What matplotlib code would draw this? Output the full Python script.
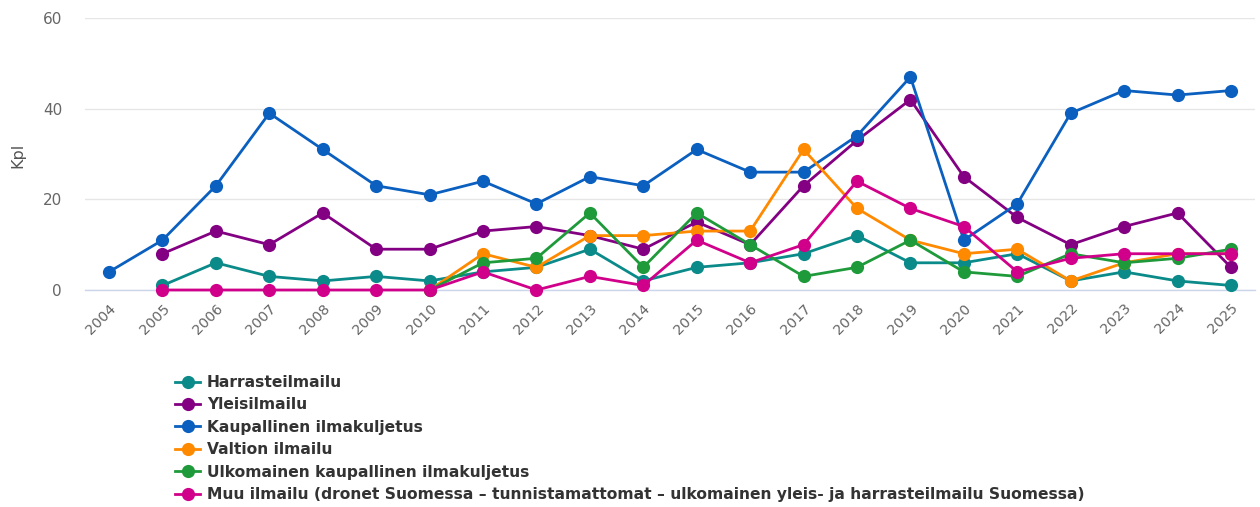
import numpy as np
import matplotlib
matplotlib.use("Agg")
import matplotlib.pyplot as plt

nan = np.nan
years = [str(y) for y in range(2004, 2026)]

harrasteilmailu = [nan, 1, 6, 3, 2, 3, 2, 4, 5, 9, 2, 5, 6, 8, 12, 6, 6, 8, 2, 4, 2, 1]
yleisilmailu = [nan, 8, 13, 10, 17, 9, 9, 13, 14, 12, 9, 15, 10, 23, 33, 42, 25, 16, 10, 14, 17, 5]
kaupallinen = [4, 11, 23, 39, 31, 23, 21, 24, 19, 25, 23, 31, 26, 26, 34, 47, 11, 19, 39, 44, 43, 44]
valtion = [nan, nan, nan, nan, nan, nan, 0, 8, 5, 12, 12, 13, 13, 31, 18, 11, 8, 9, 2, 6, 8, 8]
ulkomainen = [nan, nan, nan, nan, nan, nan, 0, 6, 7, 17, 5, 17, 10, 3, 5, 11, 4, 3, 8, 6, 7, 9]
muu = [nan, 0, 0, 0, 0, 0, 0, 4, 0, 3, 1, 11, 6, 10, 24, 18, 14, 4, 7, 8, 8, 8]

series_names = [
    "Harrasteilmailu",
    "Yleisilmailu",
    "Kaupallinen ilmakuljetus",
    "Valtion ilmailu",
    "Ulkomainen kaupallinen ilmakuljetus",
    "Muu ilmailu (dronet Suomessa – tunnistamattomat – ulkomainen yleis- ja harrasteilmailu Suomessa)",
]
series_values = [harrasteilmailu, yleisilmailu, kaupallinen, valtion, ulkomainen, muu]
colors = ["#0b8a8a", "#830083", "#0a5fbf", "#ff8a00", "#1f9a3b", "#d1008a"]

W, H = 1260, 507
fig = plt.figure(figsize=(W / 100, H / 100), dpi=100)
ax = fig.add_axes([85 / W, 1 - 290 / H, (1255 - 85) / W, (290 - 18) / H])

x = np.arange(len(years))
lines = []
for name, vals, c in zip(series_names, series_values, colors):
    ln, = ax.plot(x, np.array(vals, dtype=float), color=c, lw=2.0, marker="o",
                  markersize=9.5, markeredgewidth=0, label=name, clip_on=False, zorder=3)
    lines.append(ln)

ax.set_xlim(-0.45, len(years) - 1 + 0.45)
ax.set_ylim(0, 60)
ax.set_yticks([0, 20, 40, 60])
ax.set_xticks(x)
ax.set_xticklabels(years, rotation=45, ha="right", rotation_mode="anchor")
ax.tick_params(axis="x", length=0, pad=8, labelsize=10.3, labelcolor="#666666")
ax.tick_params(axis="y", length=0, pad=16.5, labelsize=11, labelcolor="#666666")
ax.grid(axis="y", color="#e6e6e6", lw=1)
ax.set_axisbelow(True)
for s in ["top", "right", "left"]:
    ax.spines[s].set_visible(False)
ax.spines["bottom"].set_color("#ccd6eb")
ax.spines["bottom"].set_linewidth(1)
fig.text(18 / W, 1 - 155 / H, "Kpl", rotation=90, ha="center", va="center",
         fontsize=11.5, color="#555555")

leg = fig.legend(handles=lines, loc="upper left", bbox_to_anchor=(175 / W, 1 - 375 / H),
                 frameon=False, handlelength=1.62, handletextpad=0.45, labelspacing=0.48,
                 borderaxespad=0, borderpad=0,
                 prop={"size": 11.15, "weight": "bold"})
for t in leg.get_texts():
    t.set_color("#333333")

fig.savefig("out.png", dpi=100)
